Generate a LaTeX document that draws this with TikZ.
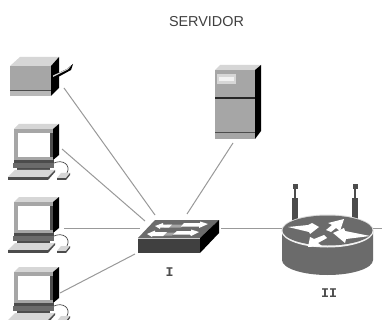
\documentclass[tikz,border=0pt]{standalone}
\usepackage{fontspec}
\setmainfont{Liberation Sans}
\newfontfamily\monof{Liberation Mono}
\definecolor{facegray}{gray}{0.65}
\definecolor{lightface}{gray}{0.84}
\definecolor{darkface}{gray}{0.3}
\definecolor{midface}{gray}{0.42}
\definecolor{linkgray}{gray}{0.6}
\tikzset{
  link/.style={draw=linkgray,line width=1pt},
  title/.style={font=\fontsize{14.4}{16}\selectfont,text=black!75,inner sep=0pt},
  tag/.style={font=\monof\bfseries\fontsize{13.3}{15}\selectfont,text=black!70,inner sep=0pt},
  face/.style={fill=facegray,draw=none},
  lightf/.style={fill=lightface,draw=none},
  blackf/.style={fill=black,draw=none},
  pics/computer/.style={code={
    % monitor
    \fill[lightf] (14,5)--(19,0)--(59,0)--(53,5)--cycle;
    \fill[blackf] (53,5)--(59,0)--(59,31)--(53,36)--cycle;
    \fill[face] (14,5) rectangle (53,36);
    \fill[white] (18,9) rectangle (50,33);
    \fill[darkface] (50,9) rectangle (53,33);
    % base
    \fill[darkface] (14,36) rectangle (54,39);
    \fill[midface] (13,39) rectangle (54,44);
    \fill[darkface] (17,44) rectangle (50,46);
    % keyboard
    \fill[lightf] (15,46)--(55,46)--(48,53)--(8,53)--cycle;
    \fill[darkface] (8,53) rectangle (48,56);
    \fill[darkface] (48,53)--(55,46)--(55,48)--(48,56)--cycle;
    % mouse
    \draw[darkface,line width=0.7pt] (54,39) .. controls (63,35) and (71,41) .. (67,49);
    \fill[lightf] (61,49)--(70,49)--(66,54)--(57,54)--cycle;
    \fill[darkface] (57,54) rectangle (66,56);
    \fill[darkface] (66,54)--(70,49)--(70,51)--(66,56)--cycle;
  }},
  pics/antenna/.style={code={
    \fill[darkface] (-2.5,0) rectangle (2.5,5.5);
    \fill[darkface] (-0.9,5.5) rectangle (0.9,14);
    \fill[darkface] (-2.8,14) rectangle (2.8,39);
  }}
}
\begin{document}
\begin{tikzpicture}[x=1pt,y=-1pt]
\useasboundingbox (0,0) rectangle (382,320);
\fill[white] (0,0) rectangle (382,320);

\node[title] (titletext) at (206.5,21.5) {SERVIDOR};

% anchors for links
\coordinate (printerport) at (64,88);
\coordinate (pcaport) at (62,149);
\coordinate (pcbport) at (64,228.7);
\coordinate (pccport) at (60,293);
\coordinate (serverport) at (233,143);
\coordinate (swa) at (155,215);
\coordinate (swb) at (145,221);
\coordinate (swc) at (140,228.7);
\coordinate (swd) at (135,254);
\coordinate (swe) at (187,214);
\coordinate (swf) at (221,228.7);
\coordinate (routerl) at (282,228.7);
\coordinate (routerr) at (373,228.7);
\coordinate (edge) at (382,228.7);

\draw[link] (printerport)--(swa);
\draw[link] (pcaport)--(swb);
\draw[link] (pcbport)--(swc);
\draw[link] (pccport)--(swd);
\draw[link] (serverport)--(swe);
\draw[link] (swf)--(routerl);
\draw[link] (routerr)--(edge);

% printer
\fill[lightf] (10,66)--(20,57)--(59,57)--(51,66)--cycle;
\fill[blackf] (51,66)--(59,57)--(59,88)--(51,96)--cycle;
\fill[face] (10,66) rectangle (51,90);
\fill[facegray!80!white] (10,91) rectangle (51,96);
\fill[darkface] (10,90) rectangle (51,91);
\fill[black] (52,76)--(67,69)--(73,64)--(71,70)--(60,76)--(52,80)--cycle;
\fill[lightface] (53,75.5)--(66,69.5)--(71,66)--(68,69.5)--(53,77)--cycle;

% computers
\pic at (0,124) {computer};
\pic at (0,197) {computer};
\begin{scope}
\clip (0,0) rectangle (382,320);
\pic at (0,267) {computer};
\end{scope}

% server
\fill[lightf] (215,70)--(220,65)--(261,65)--(255,70)--cycle;
\fill[blackf] (255,70)--(261,65)--(261,131)--(255,139)--cycle;
\fill[face] (215,70) rectangle (255,139);
\fill[lightface] (217,74) rectangle (236,84);
\fill[white!90!gray] (219,77) rectangle (234,81);
\fill[black!85] (215,97.5) rectangle (255,99);
\fill[darkface] (215,132) rectangle (255,133);

% switch
\fill[midface] (155,220)--(219,220)--(200,238)--(138,238)--cycle;
\fill[white!60!gray] (138,238)--(200,238)--(200,239)--(138,239)--cycle;
\fill[black!75] (138,239) rectangle (200,253);
\fill[blackf] (200,238)--(219,220)--(219,233)--(200,253)--cycle;
\fill[facegray] (167,224.5)--(184,224.5)--(181,227.5)--(164,227.5)--cycle;
\fill[facegray] (162,232.5)--(176,232.5)--(172,235.5)--(158,235.5)--cycle;
\fill[white] (155,226)--(163,223)--(163,224.5)--(172,224.5)--(169,227.5)--(160,227.5)--(160,229)--cycle;
\fill[white] (208,224)--(199,228)--(199,226.5)--(181,226.5)--(184,223)--(200,223)--(200,221.5)--cycle;
\fill[white] (147,234)--(155,230.5)--(155,232)--(167,232)--(163,236)--(152,236)--(152,237)--cycle;
\fill[white] (199,232)--(191,236)--(190,234.5)--(173,234.5)--(177,231)--(191,231)--(191,229.5)--cycle;

% router
\pic at (295,184) {antenna};
\pic at (355,184) {antenna};
\fill[midface] (282,231) -- (282,260) arc[start angle=180,end angle=0,x radius=45.5,y radius=15] -- (373,231)--cycle;
\fill[white!70!gray] (327.5,230.5) ellipse[x radius=46,y radius=16];
\fill[white!90!gray] (281.5,231) arc[start angle=180,end angle=0,x radius=46,y radius=16.5] -- (373,230) arc[start angle=0,end angle=180,x radius=45.5,y radius=15] -- cycle;
\fill[midface] (327.5,230.5) ellipse[x radius=45,y radius=15];
\fill[white] (288,227)--(308,225)--(312,223)--(319,227)--(310,234)--(309,232)--cycle;
\fill[white] (344,219)--(340,231)--(336,228)--(331,232)--(326,230)--(332,225)--(328,223)--cycle;
\fill[white] (333,233)--(344,228)--(345,231)--(370,236)--(346,239)--(345,243)--cycle;
\fill[white] (308,247)--(310,237)--(314,239)--(324,235)--(327,238)--(318,243)--(322,246)--cycle;

% labels
\node[tag] (labeli) at (169.5,272) {I};
\node[tag] (labelii) at (329,293) {II};
\end{tikzpicture}
\end{document}
